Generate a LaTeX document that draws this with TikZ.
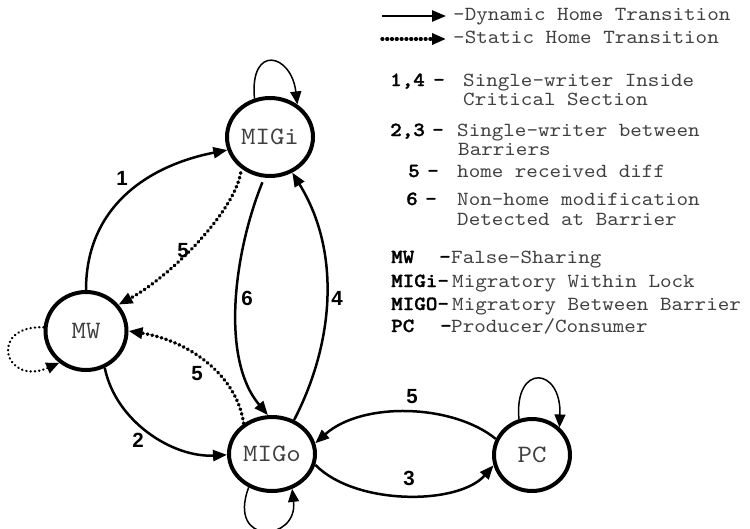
\documentclass[tikz,border=0pt]{standalone}
\usepackage{fontspec}
\setmainfont{Liberation Sans}
\newfontfamily\monofont{lmmono10-regular.otf}[FakeStretch=1.1, BoldFont=lmmonolt10-bold.otf, BoldFeatures={FakeBold=1.5}]
\usetikzlibrary{shapes.geometric,arrows.meta}
\begin{document}
\begin{tikzpicture}[x=1pt,y=-1pt,
  state/.style={ellipse, draw, line width=4pt, inner sep=0pt,
    font=\monofont\fontsize{25}{25}\selectfont, text=black!75},
  edge/.style={line width=2.5pt, -{Triangle[length=14pt,width=11pt]}},
  dotedge/.style={edge, line cap=round, dash pattern=on 0.8pt off 4pt, line width=3.4pt},
  loopedge/.style={line width=1.5pt, -{Triangle[length=13pt,width=11pt]}},
  dotloop/.style={loopedge, line cap=round, dash pattern=on 0.3pt off 4pt, line width=2.4pt},
  elabel/.style={font=\bfseries\fontsize{20.5}{20.5}\selectfont, inner sep=0pt},
  legtext/.style={font=\monofont\fontsize{20}{20}\selectfont, text=black!75, anchor=base west, inner sep=0pt},
  legbold/.style={font=\monofont\bfseries\fontsize{20}{20}\selectfont, anchor=base west, inner sep=0pt},
]
\useasboundingbox (0,0) rectangle (750,528);

% states
\node[state, minimum width=86pt, minimum height=78pt] (MIGi) at (270,137) {MIGi};
\node[state, minimum width=81pt, minimum height=78pt] (MW) at (86,331) {MW};
\node[state, minimum width=86pt, minimum height=74pt] (MIGo) at (272,454) {MIGo};
\node[state, minimum width=76pt, minimum height=72pt] (PC) at (532,455) {PC};

% transitions
\draw[edge] (MW.90) .. controls +(0,-85) and +(-77,15) .. (MIGi.197);
\draw[dotedge, shorten <=4pt] (MIGi.228) .. controls +(-8,45) and +(50,-27) .. (MW.39);
\draw[edge, shorten <=5pt] (MIGi.262) .. controls +(-30,74) and +(-48,-57) .. (MIGo.96);
\draw[edge] (MIGo.57) .. controls +(40,-77) and +(49,79) .. (MIGi.302);
\draw[dotedge] (MIGo.133) .. controls +(-7,-50) and +(58,9) .. (MW.0);
\draw[edge] (MW.297) .. controls +(11,54) and +(-54,3) .. (MIGo.181);
\draw[edge] (PC.156) .. controls +(-43,-35) and +(47,-42) .. (MIGo.14);
\draw[edge] (MIGo.346) .. controls +(40,41) and +(-35,40) .. (PC.195);

% self loops
\draw[loopedge] (MIGi.112) .. controls +(-5,-55) and +(-6,-51) .. (MIGi.50);
\draw[loopedge] (MIGo.235) .. controls +(-22,59) and +(6,53) .. (MIGo.300);
\draw[loopedge] (PC.110) .. controls +(-5,-56) and +(2,-61) .. (PC.45);
\draw[dotloop] (MW.175) .. controls +(-56,-2) and +(-55,24) .. (MW.230);

% edge labels
\node[elabel] (l1) at (122,178) {1};
\node[elabel] (l5a) at (183,251) {5};
\node[elabel] (l6) at (247,298) {6};
\node[elabel] (l4) at (337,298) {4};
\node[elabel] (l5b) at (197,374) {5};
\node[elabel] (l2) at (138,440) {2};
\node[elabel] (l5c) at (412,397) {5};
\node[elabel] (l3) at (409,478) {3};

% legend arrows
\coordinate (la1a) at (382,16);
\coordinate (la1b) at (446,16);
\coordinate (la2a) at (382,39);
\coordinate (la2b) at (446,39);
\draw[edge] (la1a) -- (la1b);
\draw[dotedge] (la2a) -- (la2b);
\node[legtext] (t1) at (453,20) {-Dynamic Home Transition};
\node[legtext] (t2) at (453,43) {-Static Home Transition};

% legend items
\node[legbold] (k14) at (390,86) {1,4};
\node[legbold] (d14) at (433,86) {-};
\node[legtext] (s14a) at (463,86) {Single-writer Inside};
\node[legtext] (s14b) at (463,105) {Critical Section};

\node[legbold] (k23) at (390,136) {2,3};
\node[legbold] (d23) at (432,136) {-};
\node[legtext] (s23a) at (457,136) {Single-writer between};
\node[legtext] (s23b) at (458,155) {Barriers};

\node[legbold] (k5) at (408,177) {5};
\node[legbold] (d5) at (427,177) {-};
\node[legtext] (s5) at (457,177) {home received diff};

\node[legbold] (k6) at (406,205) {6};
\node[legbold] (d6) at (425,205) {-};
\node[legtext] (s6a) at (457,205) {Non-home modification};
\node[legtext] (s6b) at (457,225) {Detected at Barrier};

\node[legbold] (kmw) at (391,263) {MW};
\node[legbold] (dmw) at (439,263) {-};
\node[legtext] (smw) at (451,263) {False-Sharing};

\node[legbold] (kmigi) at (391,287) {MIGi-};
\node[legtext] (smigi) at (452,287) {Migratory Within Lock};

\node[legbold] (kmigo) at (391,310) {MIGO-};
\node[legtext] (smigo) at (452,310) {Migratory Between Barrier};

\node[legbold] (kpc) at (391,332) {PC};
\node[legbold] (dpc) at (440,332) {-};
\node[legtext] (spc) at (451,332) {Producer/Consumer};
\end{tikzpicture}
\end{document}
